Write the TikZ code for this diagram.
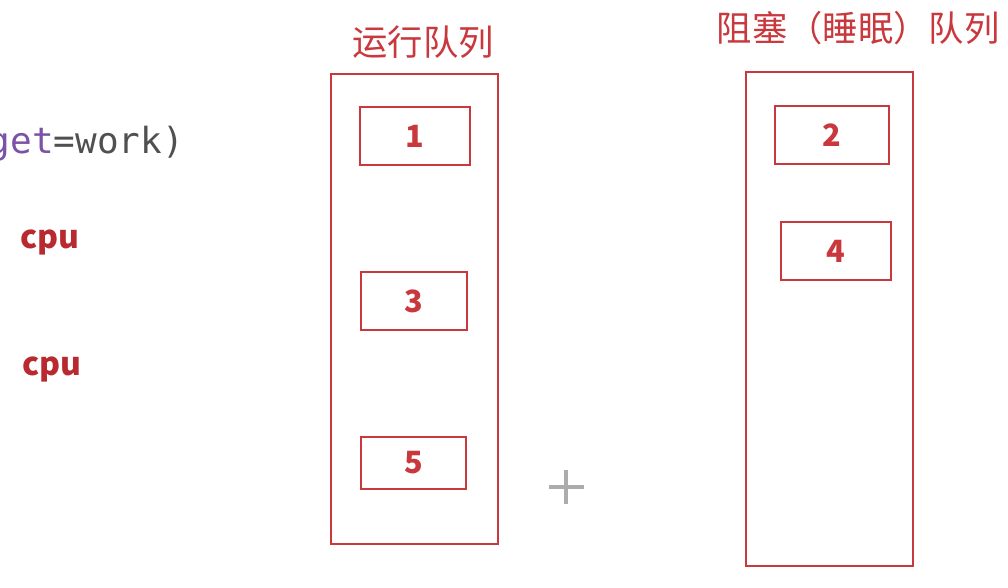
\documentclass[tikz,border=0pt]{standalone}
\usepackage{fontspec}
\setmainfont{Noto Sans CJK SC}
\newfontfamily\codefont{DejaVu Sans Mono}
\usetikzlibrary{positioning}
\definecolor{qred}{HTML}{C8383D}
\definecolor{cpured}{HTML}{B82A30}
\definecolor{kwpurple}{HTML}{7A52A6}
\definecolor{codegray}{HTML}{505050}

\begin{document}
\begin{tikzpicture}[x=0.75pt,y=-0.75pt,
    queue/.style={draw=qred,line width=1.5pt},
    task/.style={draw=qred,line width=1.5pt,minimum width=82pt,minimum height=44pt,inner sep=0pt,
      font=\fontsize{23}{25}\selectfont\bfseries,text=qred},
    head/.style={text=qred,font=\fontsize{26.5}{29}\selectfont,inner sep=0pt},
    cpu/.style={text=cpured,font=\fontsize{24}{26}\selectfont\bfseries,inner sep=0pt}]
        \useasboundingbox (0,0) rectangle (1008,588);
        % code fragment and cpu labels on the left
        \node[anchor=east,inner sep=0pt,font=\codefont\fontsize{27}{30}\selectfont] (code) at (184,144)
          {\textcolor{kwpurple}{get}\textcolor{codegray}{=work)}};
        \node[cpu,anchor=west] (cpua) at (20,242) {cpu};
        \node[cpu,anchor=west] (cpub) at (22,369) {cpu};

        % run queue
        \node[head] (runq) at (423,42) {运行队列};
        \path[queue] (331,74) rectangle (498,544);
        \node[task] (t1) at (415,136) {1};
        \node[task,minimum width=80pt] (t3) at (414,301) {3};
        \node[task,minimum width=79pt,minimum height=39pt] (t5) at (413.5,463) {5};

        % blocked (sleep) queue
        \node[head] (blockq) at (858,28) {阻塞（睡眠）队列};
        \path[queue] (746,72) rectangle (913,566);
        \node[task,minimum width=85pt] (t2) at (832,135) {2};
        \node[task] (t4) at (836,251) {4};

        % cursor cross
        \path[draw,gray!65,line width=3pt] (549,487) -- (584,487);
        \path[draw,gray!65,line width=3pt] (566,470) -- (566,504);
      \end{tikzpicture}
\end{document}
